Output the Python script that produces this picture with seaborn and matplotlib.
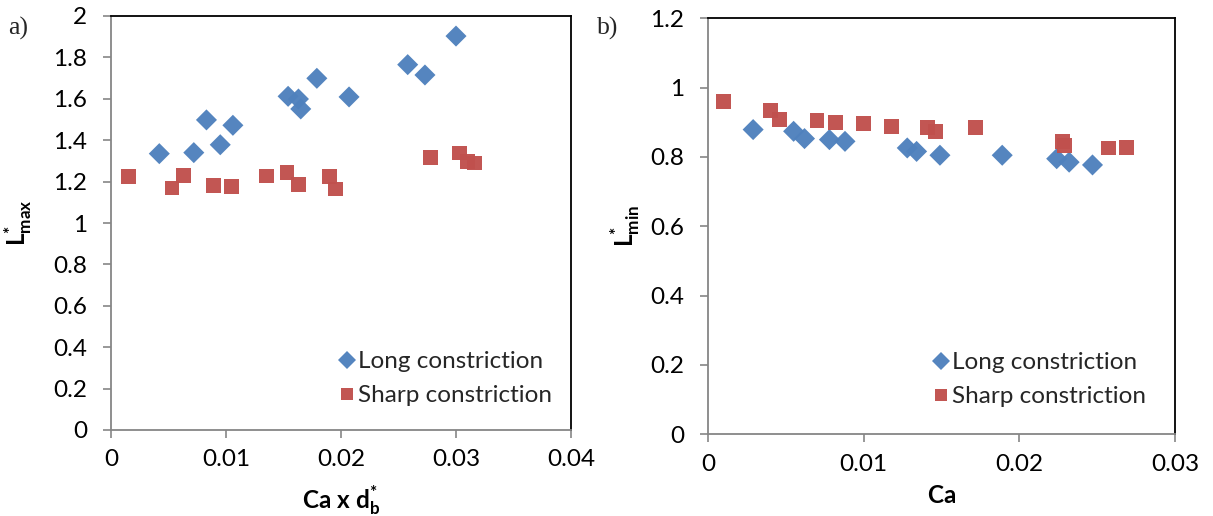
import matplotlib
matplotlib.use("Agg")
import matplotlib.pyplot as plt
import seaborn as sns
import pandas as pd

# ---- data ----
series_names = ["Long constriction", "Sharp constriction"]

a_long_x = [0.0042, 0.0072, 0.0083, 0.0095, 0.0106, 0.0154, 0.0163, 0.0165, 0.0179, 0.0207, 0.0258, 0.0273, 0.0300]
a_long_y = [1.335, 1.340, 1.498, 1.378, 1.472, 1.612, 1.599, 1.551, 1.699, 1.609, 1.765, 1.715, 1.903]
a_sharp_x = [0.0015, 0.0053, 0.0063, 0.0089, 0.0105, 0.0135, 0.0153, 0.0163, 0.0190, 0.0195, 0.0278, 0.0303, 0.0310, 0.0316]
a_sharp_y = [1.225, 1.169, 1.229, 1.180, 1.176, 1.227, 1.242, 1.184, 1.225, 1.164, 1.316, 1.338, 1.295, 1.290]

b_long_x = [0.0029, 0.0055, 0.0062, 0.0078, 0.0088, 0.0128, 0.0134, 0.0149, 0.0189, 0.0224, 0.0232, 0.0247]
b_long_y = [0.879, 0.874, 0.853, 0.850, 0.845, 0.826, 0.816, 0.805, 0.805, 0.795, 0.785, 0.777]
b_sharp_x = [0.0010, 0.0040, 0.0046, 0.0070, 0.0082, 0.0100, 0.0118, 0.0141, 0.0146, 0.0172, 0.0228, 0.0229, 0.0257, 0.0269]
b_sharp_y = [0.959, 0.933, 0.909, 0.906, 0.899, 0.897, 0.889, 0.884, 0.874, 0.884, 0.844, 0.832, 0.826, 0.827]

a_xticks = [0, 0.01, 0.02, 0.03, 0.04]
a_xticklabels = ["0", "0.01", "0.02", "0.03", "0.04"]
a_yticks = [0, 0.2, 0.4, 0.6, 0.8, 1.0, 1.2, 1.4, 1.6, 1.8, 2.0]
a_yticklabels = ["0", "0.2", "0.4", "0.6", "0.8", "1", "1.2", "1.4", "1.6", "1.8", "2"]
b_xticks = [0, 0.01, 0.02, 0.03]
b_xticklabels = ["0", "0.01", "0.02", "0.03"]
b_yticks = [0, 0.2, 0.4, 0.6, 0.8, 1.0, 1.2]
b_yticklabels = ["0", "0.2", "0.4", "0.6", "0.8", "1", "1.2"]

# ---- style ----
sns.set_theme(style="white")
plt.rcParams["font.family"] = ["Lato", "DejaVu Sans"]
plt.rcParams["mathtext.fontset"] = "custom"
plt.rcParams["mathtext.rm"] = "Lato"
plt.rcParams["mathtext.bf"] = "Lato:bold"
plt.rcParams["mathtext.it"] = "Lato:italic"

BLUE = "#4F81BD"
RED = "#C0504D"
GRAY = "#868686"
FS = 17.5

palette = {series_names[0]: BLUE, series_names[1]: RED}
markers = {series_names[0]: "D", series_names[1]: "s"}


def make_df(lx, ly, sx, sy):
    return pd.DataFrame({
        "x": list(lx) + list(sx),
        "y": list(ly) + list(sy),
        "series": [series_names[0]] * len(lx) + [series_names[1]] * len(sx),
    })


fig = plt.figure(figsize=(12.13, 5.16), dpi=100)
ax1 = fig.add_axes([111 / 1213, (516 - 430) / 516, 460 / 1213, 414 / 516])
ax2 = fig.add_axes([708 / 1213, (516 - 434.3) / 516, 467 / 1213, 416 / 516])


def style_axes(ax, xticks, xlabels, yticks, ylabels, xlim, ylim):
    ax.set_xlim(*xlim)
    ax.set_ylim(*ylim)
    ax.set_xticks(xticks)
    ax.set_xticklabels(xlabels)
    ax.set_yticks(yticks)
    ax.set_yticklabels(ylabels)
    for side in ["left", "bottom"]:
        ax.spines[side].set_color(GRAY)
        ax.spines[side].set_linewidth(1.3)
    for side in ["top", "right"]:
        ax.spines[side].set_color("black")
        ax.spines[side].set_linewidth(1.3)
    ax.tick_params(axis="both", which="major", direction="out", length=6,
                   width=1.2, color=GRAY, labelsize=FS, labelcolor="black",
                   left=True, bottom=True)
    ax.tick_params(axis="y", pad=11)
    ax.tick_params(axis="x", pad=8)
    ax.grid(False)


panels = [
    (ax1, make_df(a_long_x, a_long_y, a_sharp_x, a_sharp_y),
     a_xticks, a_xticklabels, a_yticks, a_yticklabels, (0, 0.04), (0, 2.0),
     r"$\mathbf{L}^{\mathbf{*}}_{\mathbf{max}}$",
     r"$\mathbf{Ca\ x\ d}_{\mathbf{b}}^{\mathbf{*}}$",
     (-0.167, 0.5), (0.5, -0.128), (346 / 1213, 1 - 351 / 516), "a)", 8),
    (ax2, make_df(b_long_x, b_long_y, b_sharp_x, b_sharp_y),
     b_xticks, b_xticklabels, b_yticks, b_yticklabels, (0, 0.03), (0, 1.2),
     r"$\mathbf{L}^{\mathbf{*}}_{\mathbf{min}}$",
     r"$\mathbf{Ca}$",
     (-0.141, 0.5), (0.5, -0.122), (940 / 1213, 1 - 352 / 516), "b)", 597),
]

for (ax, df, xt, xl, yt, yl, xlim, ylim, ylab, xlab, ylc, xlc, legpos, tag, tagx) in panels:
    sns.scatterplot(data=df, x="x", y="y", hue="series", style="series",
                    palette=palette, markers=markers, s=115, linewidth=0,
                    edgecolor="none", alpha=0.97, ax=ax, legend=True, zorder=3)
    style_axes(ax, xt, xl, yt, yl, xlim, ylim)
    ax.set_ylabel(ylab, fontsize=FS, color="black")
    ax.set_xlabel(xlab, fontsize=FS, color="black")
    ax.yaxis.set_label_coords(*ylc)
    ax.xaxis.set_label_coords(*xlc)
    handles, labels = ax.get_legend_handles_labels()
    ax.legend(handles, labels, frameon=False, fontsize=FS, loc="upper left",
              bbox_to_anchor=(legpos[0] - 0.008, legpos[1]),
              bbox_transform=fig.transFigure, handletextpad=0.0,
              handlelength=0.9, labelspacing=0.55, borderpad=0, borderaxespad=0,
              markerscale=0.85)
    fig.text(tagx / 1213, 1 - 28 / 516, tag, fontsize=18.5,
             family=["Liberation Serif"], va="center", ha="left")

fig.savefig("out.png", dpi=100)
